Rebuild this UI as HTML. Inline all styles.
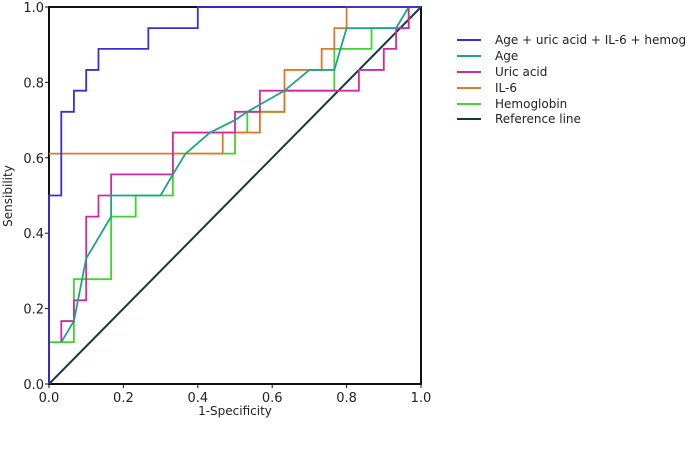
<!DOCTYPE html>
<html><head><meta charset="utf-8"><style>
body{margin:0;background:#fff;}
svg text{font-family:"DejaVu Sans","Liberation Sans",sans-serif;fill:#222;}
</style></head><body>
<svg id="chart" width="694" height="445"></svg>
<script>
const xTicks=[0,0.2,0.4,0.6,0.8,1.0];
const yTicks=[0,0.2,0.4,0.6,0.8,1.0];
const combined=[[0,0],[0,0.5],[0.033,0.5],[0.033,0.722],[0.067,0.722],[0.067,0.778],[0.1,0.778],[0.1,0.833],[0.133,0.833],[0.133,0.889],[0.267,0.889],[0.267,0.944],[0.4,0.944],[0.4,1],[1,1]];
const age=[[0.033,0.111],[0.067,0.167],[0.1,0.333],[0.167,0.444],[0.167,0.5],[0.3,0.5],[0.333,0.556],[0.367,0.611],[0.433,0.667],[0.5,0.7],[0.533,0.722],[0.633,0.778],[0.7,0.833],[0.767,0.833],[0.8,0.944],[0.933,0.944],[0.967,1],[1,1]];
const uric=[[0.033,0.111],[0.033,0.167],[0.067,0.167],[0.067,0.222],[0.1,0.222],[0.1,0.444],[0.133,0.444],[0.133,0.5],[0.167,0.5],[0.167,0.556],[0.333,0.556],[0.333,0.667],[0.5,0.667],[0.5,0.722],[0.567,0.722],[0.567,0.778],[0.833,0.778],[0.833,0.833],[0.9,0.833],[0.9,0.889],[0.933,0.889],[0.933,0.944],[0.967,0.944],[0.967,1],[1,1]];
const il6=[[0,0.611],[0.467,0.611],[0.467,0.667],[0.567,0.667],[0.567,0.722],[0.633,0.722],[0.633,0.833],[0.733,0.833],[0.733,0.889],[0.767,0.889],[0.767,0.944],[0.8,0.944],[0.8,1],[1,1]];
const hemo=[[0,0.111],[0.067,0.111],[0.067,0.278],[0.167,0.278],[0.167,0.444],[0.233,0.444],[0.233,0.5],[0.333,0.5],[0.333,0.611],[0.5,0.611],[0.5,0.667],[0.533,0.667],[0.533,0.722],[0.633,0.722],[0.633,0.778],[0.767,0.778],[0.767,0.889],[0.867,0.889],[0.867,0.944],[0.967,0.944],[0.967,1],[1,1]];
const refLine=[[0,0],[1,1]];
const seriesNames=["Age + uric acid + IL-6 + hemog","Age","Uric acid","IL-6","Hemoglobin","Reference line"];
const seriesColors=["#3a2fd6","#1aa58a","#d6289e","#e0782a","#3ed62a","#163a3a"];
const seriesData=[combined,age,uric,il6,hemo,refLine];
const X0=49,X1=421,Y0=384,Y1=7;
const sx=v=>X0+v*(X1-X0), sy=v=>Y0-v*(Y0-Y1);
const svg=document.getElementById('chart');const NS='http://www.w3.org/2000/svg';
function mk(t,a){const e=document.createElementNS(NS,t);for(const k in a)e.setAttribute(k,a[k]);svg.appendChild(e);return e;}
const frame=mk('rect',{x:X0,y:Y1,width:X1-X0,height:Y0-Y1,fill:'none',stroke:'#111','stroke-width':2});


xTicks.forEach(t=>{
 const l=mk('line',{x1:sx(t),x2:sx(t),y1:Y0,y2:Y0+4,stroke:'#111'});
 
 
 const tx=mk('text',{x:sx(t),y:Y0+18,'text-anchor':'middle','font-size':13});tx.textContent=t.toFixed(1);
 
 
});
yTicks.forEach(t=>{
 const l=mk('line',{x1:X0-4,x2:X0,y1:sy(t),y2:sy(t),stroke:'#111'});
 
 
 const tx=mk('text',{x:X0-5,y:sy(t)+5,'text-anchor':'end','font-size':13});tx.textContent=t.toFixed(1);
 
 
});
const xt=mk('text',{x:235,y:415,'text-anchor':'middle','font-size':12});xt.textContent='1-Specificity';


const yt=mk('text',{x:12,y:196,'text-anchor':'middle','font-size':12,transform:'rotate(-90 12 196)'});yt.textContent='Sensibility';


const order=[5,4,3,2,1,0];
order.forEach(i=>{
 const p=mk('polyline',{points:seriesData[i].map(d=>sx(d[0])+','+sy(d[1])).join(' '),fill:'none',stroke:seriesColors[i],'stroke-width':i==5?2:1.8});
 
 
});
const legY=[40,56,72,88,104,119];
seriesNames.forEach((n,i)=>{
 const l=mk('line',{x1:457,x2:481,y1:legY[i],y2:legY[i],stroke:seriesColors[i],'stroke-width':2});
 
 
 const tx=mk('text',{x:495,y:legY[i]+4,'font-size':12});tx.textContent=n;
 
 
});
</script>
</body></html>
